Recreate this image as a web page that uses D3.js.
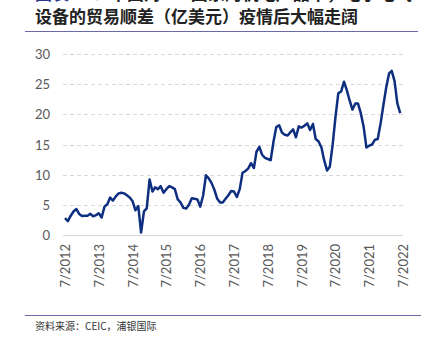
<!DOCTYPE html>
<html><head><meta charset="utf-8">
<script src="https://cdn.jsdelivr.net/npm/d3@7"></script>
<style>body{margin:0;background:#fff;} svg{display:block;}</style>
</head><body>
<svg id="c" width="424" height="343"></svg>
<script>
const titleLine1Prefix = "图表 16：";
const titleLine1 = "中国对 G7 国家的机电产品中，电子电气";
const titleLine2 = "设备的贸易顺差（亿美元）疫情后大幅走阔";
const sourceText = "资料来源：CEIC，浦银国际";
const startYear = 2012, startMonth = 6; // July 2012
const values = [2.8,2.3,3.2,3.9,4.3,3.5,3.15,3.2,3.2,3.5,3.1,3.3,3.6,2.9,4.7,5.1,6.2,5.7,6.4,6.9,
7.0,6.9,6.6,6.2,5.6,4.1,4.8,0.4,3.9,4.4,9.2,7.2,7.9,7.6,8.1,7.0,7.6,8.1,7.9,7.6,
5.9,5.4,4.5,4.4,5.0,6.1,6.0,5.9,4.7,6.5,9.9,9.4,8.6,7.5,6.0,5.4,5.4,6.0,6.6,7.3,
7.2,6.3,7.6,10.3,10.6,11.0,11.9,11.1,13.8,14.6,13.3,12.8,12.6,12.4,15.5,17.9,18.2,17.0,16.6,16.5,
17.0,17.5,16.2,18.0,17.8,18.1,18.5,17.4,18.4,15.9,15.5,14.5,12.4,10.7,11.3,15.0,19.5,23.5,23.8,25.4,
24.0,22.3,20.8,21.8,21.8,20.2,18.0,14.5,14.8,15.0,15.8,15.9,18.5,21.5,24.5,26.8,27.2,25.5,21.8,20.2];
const yTicks = [0,5,10,15,20,25,30];
const xTickYears = [2012,2013,2014,2015,2016,2017,2018,2019,2020,2021,2022];

const svg = d3.select("#c");
const cjk = "'Noto Sans CJK SC', sans-serif";
const latin = "Lato, 'Noto Sans', sans-serif";

const dates = values.map((v,i)=>new Date(startYear, startMonth+i, 1));
const x = d3.scaleTime().domain([new Date(2012,6,1), new Date(2022,6,1)]).range([65,403]);
const y = d3.scaleLinear().domain([0,30]).range([235,54]);

// title
svg.append("text").attr("x",35).attr("y",0).attr("font-family",cjk).attr("font-size",17).attr("font-weight",700)
  .call(t=>{t.append("tspan").attr("fill","#2b3990").text(titleLine1Prefix);t.append("tspan").attr("fill","#222").text(titleLine1);});
svg.append("text").attr("x",35).attr("y",23).attr("font-family",cjk).attr("font-size",17).attr("font-weight",700)
  .attr("fill","#222").text(titleLine2);
svg.append("line").attr("x1",25).attr("x2",418).attr("y1",31.5).attr("y2",31.5).attr("stroke","#6a6aa8").attr("stroke-width",1.2);

// grid
const grid = svg.append("g");
yTicks.forEach(t=>{
  grid.append("line").attr("x1",63).attr("x2",403).attr("y1",Math.round(y(t))+0.5).attr("y2",Math.round(y(t))+0.5)
    .attr("stroke","#d9d9d9").attr("stroke-width",1).attr("stroke-dasharray",t===0?null:"4,3");
});
// y axis labels
const yAxis = d3.axisLeft(y).tickValues(yTicks).tickSize(0).tickPadding(0);
const ga = svg.append("g").attr("transform","translate(50,0)").call(yAxis);
ga.select(".domain").remove();
ga.selectAll("text").attr("font-family",latin).attr("font-size",13).attr("fill","#595959").attr("dy","0.35em");

// x axis labels
const xAxis = d3.axisBottom(x).tickValues(xTickYears.map(yr=>new Date(yr,6,1))).tickFormat(d=>"7/"+d.getFullYear()).tickSize(0).tickPadding(0);
const gx = svg.append("g").attr("transform","translate(0,244)").call(xAxis);
gx.select(".domain").remove();
gx.selectAll("text").attr("font-family",latin).attr("font-size",13).attr("fill","#595959")
  .attr("transform","rotate(-90)").attr("text-anchor","end").attr("x",0).attr("y",0).attr("dx",0).attr("dy","0.35em");

// line
svg.append("path").datum(values).attr("fill","none").attr("stroke","#0e2f80").attr("stroke-width",2.5)
  .attr("stroke-linejoin","round")
  .attr("d", d3.line().x((d,i)=>x(dates[i])).y(d=>y(d)));

// footer
svg.append("line").attr("x1",25).attr("x2",421).attr("y1",315.5).attr("y2",315.5).attr("stroke","#6a6aa8").attr("stroke-width",1.2);
svg.append("text").attr("x",35).attr("y",330).attr("font-family",cjk).attr("font-size",10).attr("fill","#333").text(sourceText);
</script>
</body></html>
